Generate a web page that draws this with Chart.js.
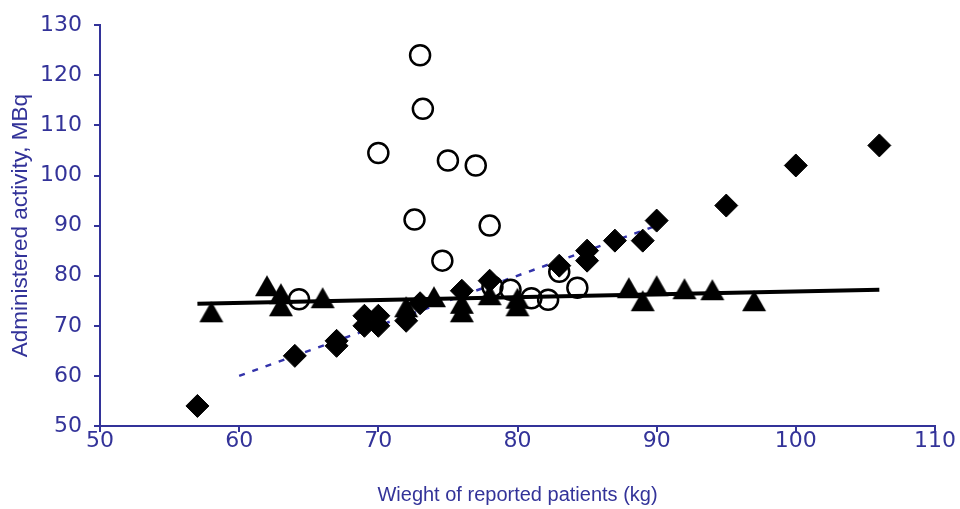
<!DOCTYPE html>
<html>
<head>
<meta charset="utf-8">
<script src="https://cdn.jsdelivr.net/npm/chart.js@4/dist/chart.umd.min.js"></script>
<style>
  html, body { margin: 0; padding: 0; background: #ffffff; }
  #wrap { width: 960px; height: 509px; }
</style>
</head>
<body>
<div id="wrap"><canvas id="chart" width="960" height="509"></canvas></div>
<script>
// Axis ticks
const xTicks = [50, 60, 70, 80, 90, 100, 110];
const yTicks = [50, 60, 70, 80, 90, 100, 110, 120, 130];

// Filled diamonds
const diamondX = [57, 64, 67, 67, 69, 69, 70, 70, 72, 73, 76, 78, 83, 85, 85, 87, 89, 90, 95, 100, 106];
const diamondY = [54, 64, 66, 67, 70, 72, 70, 72, 71, 74.5, 77, 79, 82, 85, 83, 87, 87, 91, 94, 102, 106];

// Open circles
const circleX = [64.3, 70, 72.6, 73, 73.2, 74.6, 75, 77, 78, 78.2, 79.5, 81, 82.2, 83, 84.3];
const circleY = [75.3, 104.5, 91.2, 124, 113.3, 83, 103, 102, 90, 77.8, 77.2, 75.5, 75.2, 80.8, 77.6];

// Filled triangles
const triangleX = [58, 62, 63, 63, 66, 72, 74, 76, 76, 78, 80, 80, 88, 89, 90, 92, 94, 97];
const triangleY = [72.8, 78, 76.4, 74, 75.6, 73.8, 75.8, 72.8, 74.5, 76.2, 75.5, 74, 77.6, 75, 78, 77.4, 77.2, 75];

// Trend lines (end points)
const solidTrendX = [57, 106];
const solidTrendY = [74.4, 77.2];
const dashedTrendX = [60, 90];
const dashedTrendY = [60, 90];

const AXIS_BLUE = '#333399';

function pairs(xs, ys) {
  return xs.map((x, i) => ({ x: x, y: ys[i] }));
}

// Triangle marker centred on its bounding box
function makeTriangle(w, h) {
  const c = document.createElement('canvas');
  c.width = w + 2;
  c.height = h + 2;
  const g = c.getContext('2d');
  g.fillStyle = '#000000';
  g.beginPath();
  g.moveTo((w + 2) / 2, 1);
  g.lineTo(w + 1, h + 1);
  g.lineTo(1, h + 1);
  g.closePath();
  g.fill();
  return c;
}
const triangleMarker = makeTriangle(24, 21);

new Chart(document.getElementById('chart'), {
  type: 'scatter',
  data: {
    datasets: [
      {
        label: 'trend',
        data: pairs(solidTrendX, solidTrendY),
        showLine: true,
        borderColor: '#000000',
        borderWidth: 4,
        pointRadius: 0,
        order: 0
      },
      {
        label: 'triangles',
        data: pairs(triangleX, triangleY),
        pointStyle: triangleMarker,
        pointRadius: 11,
        order: 1
      },
      {
        label: 'diamonds',
        data: pairs(diamondX, diamondY),
        pointStyle: 'rectRot',
        pointRadius: 11.5,
        backgroundColor: '#000000',
        borderColor: '#000000',
        borderWidth: 1,
        order: 2
      },
      {
        label: 'circles',
        data: pairs(circleX, circleY),
        pointStyle: 'circle',
        pointRadius: 10,
        backgroundColor: 'rgba(0,0,0,0)',
        borderColor: '#000000',
        borderWidth: 2.5,
        order: 3
      },
      {
        label: 'dashed trend',
        data: pairs(dashedTrendX, dashedTrendY),
        showLine: true,
        borderColor: '#3333aa',
        borderWidth: 2.5,
        borderDash: [6, 8],
        pointRadius: 0,
        order: 4
      }
    ]
  },
  options: {
    responsive: false,
    devicePixelRatio: 1,
    animation: false,
    layout: { padding: { top: 23, right: 25, left: 0, bottom: 0 } },
    plugins: {
      legend: { display: false },
      tooltip: { enabled: false }
    },
    scales: {
      x: {
        type: 'linear',
        min: xTicks[0],
        max: xTicks[xTicks.length - 1],
        afterBuildTicks: (s) => { s.ticks = xTicks.map(v => ({ value: v })); },
        afterFit: (s) => { s.height = 83; },
        border: { display: true, color: AXIS_BLUE, width: 2 },
        grid: { display: true, drawOnChartArea: false, drawTicks: true, tickLength: 6, color: AXIS_BLUE, lineWidth: 2 },
        ticks: {
          color: AXIS_BLUE,
          padding: -4,
          maxRotation: 0,
          font: { family: 'DejaVu Sans', size: 22 }
        },
        title: {
          display: true,
          text: 'Wieght of reported patients (kg)',
          color: AXIS_BLUE,
          padding: { top: 0, bottom: 2 },
          font: { family: 'Liberation Sans Narrow, Liberation Sans', size: 20 }
        }
      },
      y: {
        type: 'linear',
        min: yTicks[0],
        max: yTicks[yTicks.length - 1],
        afterBuildTicks: (s) => { s.ticks = yTicks.map(v => ({ value: v })); },
        afterFit: (s) => { s.width = 100; },
        border: { display: true, color: AXIS_BLUE, width: 2 },
        grid: { display: true, drawOnChartArea: false, drawTicks: true, tickLength: 6, color: AXIS_BLUE, lineWidth: 2 },
        ticks: {
          color: AXIS_BLUE,
          padding: 12,
          font: { family: 'DejaVu Sans', size: 22 }
        },
        title: {
          display: true,
          text: 'Administered activity, MBq',
          color: AXIS_BLUE,
          padding: { top: 7, bottom: 0 },
          font: { family: 'Liberation Sans', size: 22.5 }
        }
      }
    }
  }
});
</script>
</body>
</html>
